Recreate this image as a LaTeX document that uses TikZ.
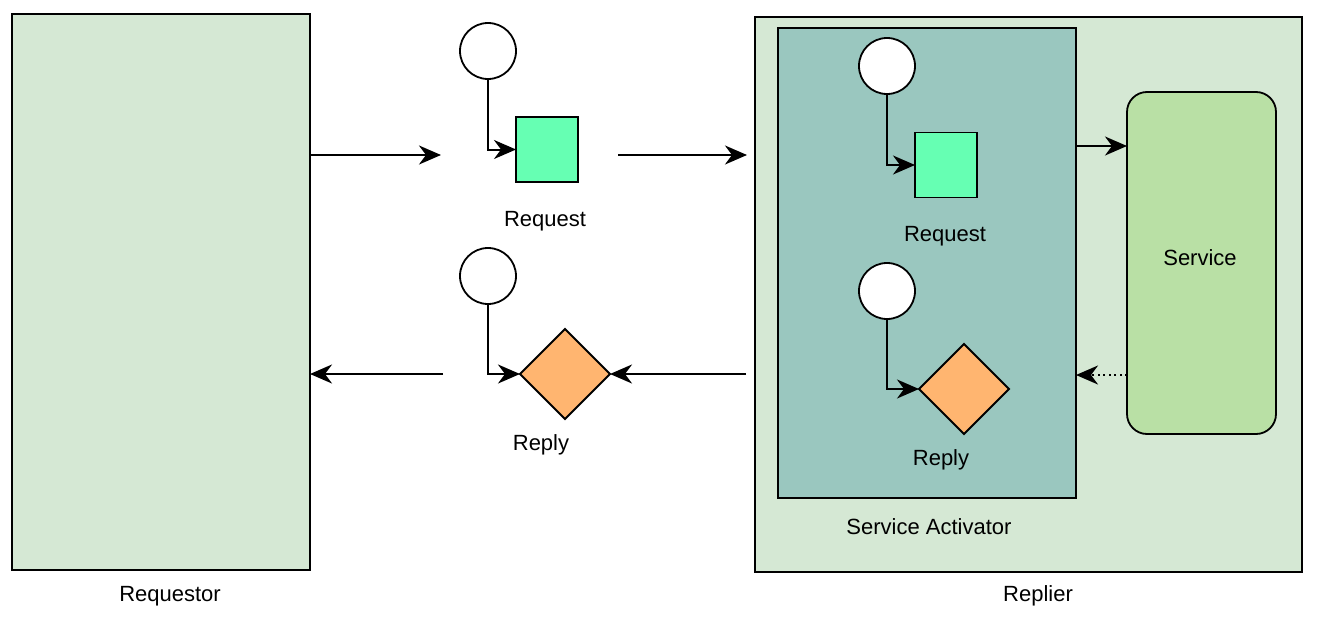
\documentclass[tikz,border=0pt]{standalone}
\usepackage{fontspec}
\setmainfont{Liberation Sans}
\usetikzlibrary{shapes.geometric,arrows.meta}
\definecolor{boxgreen}{HTML}{D5E8D4}
\definecolor{satel}{HTML}{9AC7BF}
\definecolor{sqgreen}{HTML}{66FFB3}
\definecolor{dorange}{HTML}{FFB570}
\definecolor{svcgreen}{HTML}{B9E0A5}
\tikzset{
  every node/.style={inner sep=0pt, outer sep=0pt, font=\fontsize{22}{26}\selectfont},
  box/.style={draw, line width=1.8pt, rectangle},
  msgcircle/.style={draw, circle, fill=white, line width=1.8pt, minimum size=56pt},
  msgsquare/.style={draw, rectangle, fill=sqgreen, line width=1.8pt, minimum width=62pt, minimum height=65pt},
  msgdiamond/.style={draw, diamond, fill=dorange, line width=1.8pt, minimum width=90pt, minimum height=90pt},
  flowarrow/.style={line width=2pt, -{Stealth[length=22pt,width=19pt,inset=7pt]}},
  dotflow/.style={flowarrow, dash pattern=on 2pt off 3.5pt},
}
\begin{document}
\begin{tikzpicture}[x=1pt,y=-1pt]
\useasboundingbox (0,0) rectangle (1326,624);
% containers
\node[box, fill=boxgreen, minimum width=298pt, minimum height=556pt] (req) at (161,292) {};
\node (reqlbl) at (170,596) {Requestor};
\node[box, fill=boxgreen, minimum width=547pt, minimum height=555pt] (rep) at (1028.5,294.5) {};
\node (replbl) at (1038,596) {Replier};
\node[box, fill=satel, minimum width=298pt, minimum height=470pt] (sa) at (927,263) {};
\node (salbl) at (929,527) {Service Activator};
\node[draw, line width=1.8pt, fill=svcgreen, rounded corners=20pt, minimum width=149pt, minimum height=342pt] (svc) at (1201.5,263) {};
\node (svclbl) at (1200,258) {Service};
% middle request channel
\node[msgcircle] (c1) at (488,51) {};
\node[msgsquare] (s1) at (547,149.5) {};
\node (l1) at (545,221) {Request};
\draw[flowarrow] (c1.south) |- (s1.west);
% middle reply channel
\node[msgcircle] (c2) at (488,276) {};
\node[msgdiamond] (d1) at (565,374) {};
\node (l2) at (541,445) {Reply};
\draw[flowarrow] (c2.south) |- (d1.west);
% inside service activator
\node[msgcircle] (c3) at (887,66) {};
\node[msgsquare] (s2) at (946,165) {};
\node (l3) at (945,236) {Request};
\draw[flowarrow] (c3.south) |- (s2.west);
\node[msgcircle] (c4) at (887,291) {};
\node[msgdiamond] (d2) at (964,389) {};
\node (l4) at (941,460) {Reply};
\draw[flowarrow] (c4.south) |- (d2.west);
% flow arrows
\coordinate (a1) at (441,155);
\draw[flowarrow] (req.east |- a1) -- (a1);
\coordinate (a2s) at (618,155);
\coordinate (a2e) at (747,155);
\draw[flowarrow] (a2s) -- (a2e);
\coordinate (b1) at (746,374);
\draw[flowarrow] (b1) -- (d1.east);
\coordinate (b2) at (443,374);
\draw[flowarrow] (b2) -- (req.east |- b2);
\coordinate (sv) at (1076,146);
\draw[flowarrow] (sa.east |- sv) -- (svc.west |- sv);
\coordinate (sd) at (1127,375);
\draw[dotflow] (svc.west |- sd) -- (sa.east |- sd);
\end{tikzpicture}
\end{document}
